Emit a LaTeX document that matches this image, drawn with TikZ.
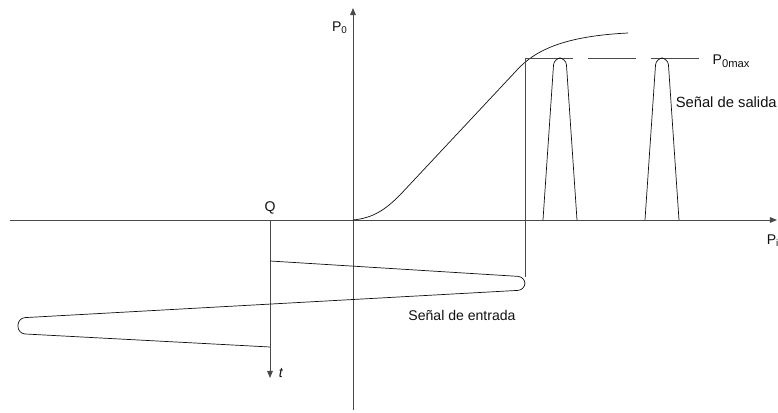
\documentclass[tikz,border=0pt]{standalone}
\usepackage{fontspec}
\setmainfont{Liberation Sans}
\usepackage{xcolor}
\usepackage{tikz}
\usetikzlibrary{arrows.meta,calc,positioning}
\definecolor{axis}{HTML}{4A4A4A}
\definecolor{ink}{HTML}{111111}
\tikzset{
 axisline/.style={axis,line width=0.7pt},
 signal/.style={ink,line width=0.5pt},
 lbl/.style={text=ink,inner sep=1pt}
}

\begin{document}
\begin{tikzpicture}[x=1cm,y=1cm,font=\normalsize,>={Triangle[length=5pt,width=4pt]}]
\useasboundingbox (-8.825,-4.8) rectangle (10.625,5.5);
% axes
\draw[axisline,->] (-8.575,0) -- (10.6,0);
\draw[axisline,->] (0,-4.75) -- (0,5.3);
\draw[axisline,->] (-2.075,0) -- (-2.075,-3.95);
\node[lbl] (po) at (-0.33,4.8) {P\textsubscript{0}};
\node[lbl] (pi) at (10.5,-0.52) {P\textsubscript{i}};
\node[lbl] (q) at (-2.075,0.3) {Q};
\node[lbl] (t) at (-1.8,-3.83) {\textit{t}};
% transfer curve
\draw[signal] (0,0) .. controls (0.5,0.05) and (0.8,0.25) .. (1.175,0.625) -- (4.1,3.75) .. controls (4.6,4.3) and (5.4,4.6) .. (6.875,4.675);
\draw[axisline,line width=0.6pt] (4.3,-1.42) -- (4.3,4.05);
\draw[axisline,line width=0.6pt,dash pattern=on 1.2cm off 0.375cm] (4.3,4.05) -- (8.65,4.05);
\node[lbl,anchor=west] (pmax) at (8.95,3.98) {P\textsubscript{\footnotesize 0max}};
% input signal
\draw[signal,rounded corners=5pt] (-2.075,-1.025) -- (4.3,-1.42) -- (4.3,-1.75) -- (-8.375,-2.45) -- (-8.375,-2.84) -- (-2.075,-3.175);
\node[lbl] (entrada) at (2.725,-2.375) {Señal de entrada};
% output pulses
\foreach \px in {5.175,7.725}
 \draw[signal,rounded corners=5pt] (\px-0.425,0) -- (\px-0.15,4.05) -- (\px+0.15,4.05) -- (\px+0.425,0);
\node[lbl,anchor=east,inner sep=0pt,font=\fontsize{10.5}{12.5}\selectfont] (salida) at (10.6,2.95) {Señal de salida};
\end{tikzpicture}
\end{document}
